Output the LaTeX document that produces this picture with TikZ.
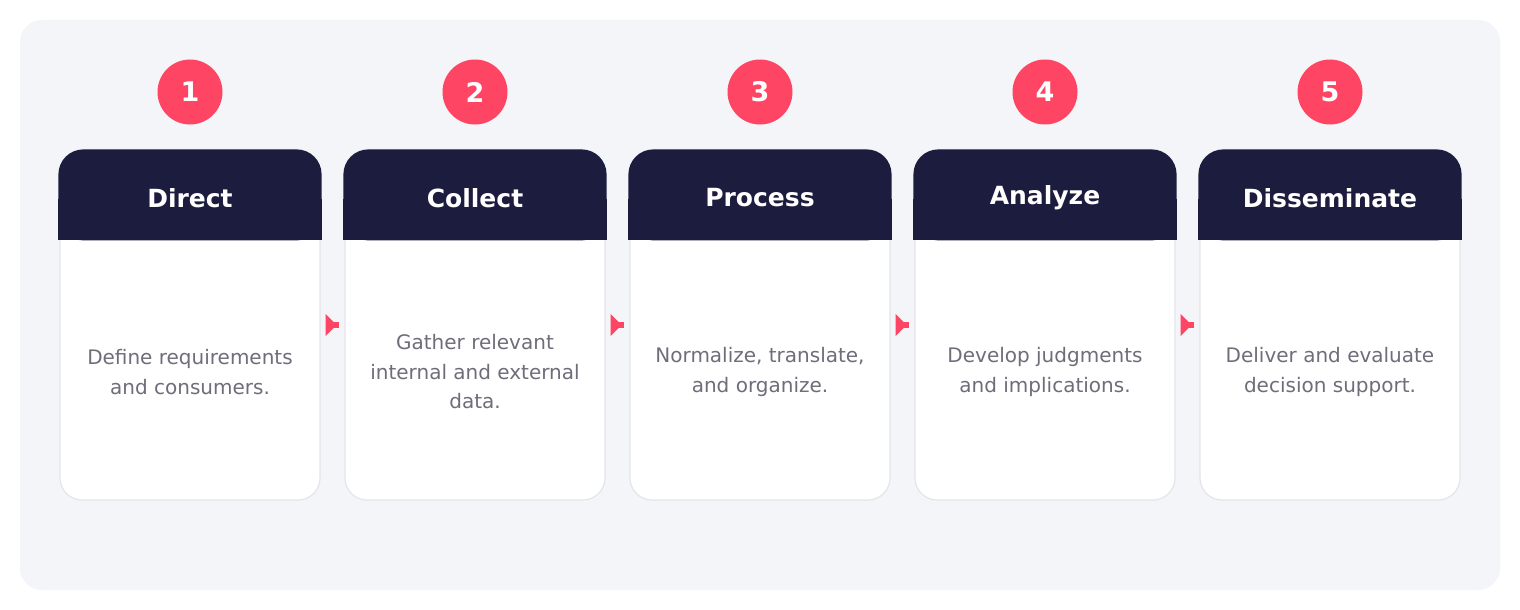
\documentclass[tikz,border=0pt]{standalone}
\usepackage{fontspec}
\setmainfont{DejaVu Sans}
\usetikzlibrary{calc}
\definecolor{navy}{HTML}{1C1C3E}
\definecolor{accent}{HTML}{FF4564}
\definecolor{panel}{HTML}{F4F5F9}
\definecolor{cardline}{HTML}{E4E5EA}
\definecolor{graytxt}{HTML}{6E6E7A}
\begin{document}
\begin{tikzpicture}[x=1pt,y=-1pt,
  card/.style={draw=cardline, line width=1.2pt, fill=white, rounded corners=22pt,
    minimum width=260pt, minimum height=350pt, inner sep=0pt},
  badge/.style={circle, fill=accent, minimum size=65pt, inner sep=0pt, text=white,
    font=\fontsize{27}{27}\selectfont\bfseries},
  headtxt/.style={text=white, inner sep=0pt, font=\fontsize{25}{29}\selectfont\bfseries},
  bodytxt/.style={text=graytxt, align=center, inner sep=0pt, font=\fontsize{20}{29.5}\selectfont},
  arrowline/.style={draw=accent, line width=6pt},
]
\useasboundingbox (0,0) rectangle (1520,610);
\fill[white] (0,0) rectangle (1520,610);
\fill[panel, rounded corners=22pt] (20,20) rectangle (1500,590);
\foreach \i/\t/\d in {1/Direct/{Define requirements\\and consumers.},
  2/Collect/{Gather relevant\\internal and external\\data.},
  3/Process/{Normalize, translate,\\and organize.},
  4/Analyze/{Develop judgments\\and implications.},
  5/Disseminate/{Deliver and evaluate\\decision support.}} {
  \pgfmathsetmacro{\cx}{190+285*(\i-1)}
  \node[card] (c\i) at (\cx,325) {};
  \fill[navy, rounded corners=25pt] ($(c\i.north west)+(-1,0)$) rectangle ($(c\i.north east)+(1,91)$);
  \fill[navy] ($(c\i.north west)+(-1,50)$) rectangle ($(c\i.north east)+(1,91)$);
  \node[headtxt] (h\i) at ($(c\i.north)+(0,48.5)$) {\t};
  \node[bodytxt] (t\i) at ($(c\i.center)+(0,47)$) {\d};
  \node[badge] (b\i) at (\cx,92) {\i};
}
\foreach \i/\j in {1/2,2/3,3/4,4/5} {
  \draw[arrowline] ([xshift=5pt]c\i.east) -- ([xshift=-5pt]c\j.west);
  \fill[accent] ([xshift=5pt,yshift=11pt]c\i.east) -- ([xshift=16pt]c\i.east) -- ([xshift=5pt,yshift=-11pt]c\i.east) -- cycle;
}
\end{tikzpicture}
\end{document}
